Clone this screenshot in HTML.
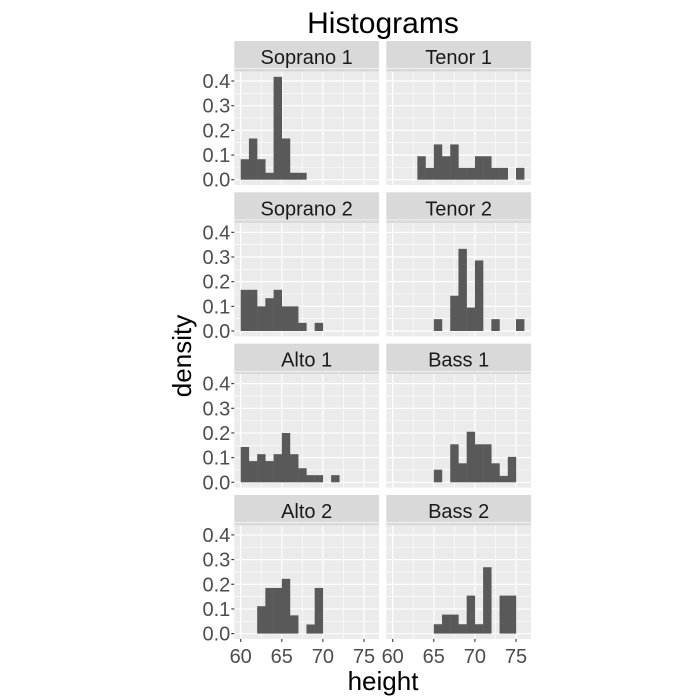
<!DOCTYPE html>
<html><head><style>body{margin:0;background:#fff}svg{display:block}</style></head>
<body>
<svg id="s" width="699" height="699" xmlns="http://www.w3.org/2000/svg" font-family="Liberation Sans, sans-serif"></svg>
<script>
const data=[
 [[60,.083],[61,.167],[62,.083],[63,.028],[64,.417],[65,.167],[66,.028],[67,.028]],
 [[63,.095],[64,.048],[65,.143],[66,.095],[67,.143],[68,.048],[69,.048],[70,.095],[71,.095],[72,.048],[73,.048],[75,.048]],
 [[60,.167],[61,.167],[62,.1],[63,.133],[64,.167],[65,.1],[66,.1],[67,.033],[69,.033]],
 [[65,.048],[67,.143],[68,.333],[69,.095],[70,.286],[72,.048],[75,.048]],
 [[60,.143],[61,.086],[62,.114],[63,.086],[64,.114],[65,.2],[66,.114],[67,.057],[68,.029],[69,.029],[71,.029]],
 [[65,.051],[67,.154],[68,.077],[69,.205],[70,.154],[71,.154],[72,.077],[73,.026],[74,.103]],
 [[62,.111],[63,.185],[64,.185],[65,.222],[66,.074],[68,.037],[69,.185]],
 [[65,.038],[66,.077],[67,.077],[68,.038],[69,.154],[70,.038],[71,.269],[73,.154],[74,.154]]
];
const names=["Soprano 1","Tenor 1","Soprano 2","Tenor 2","Alto 1","Bass 1","Alto 2","Bass 2"];
let h='<text x="383" y="33" font-size="30" text-anchor="middle" fill="#000">Histograms</text>';
const ux=8.22, uy=246.7;
for(let i=0;i<8;i++){
 const r=Math.floor(i/2),c=i%2;
 const x0=c?386.3:234.3, x1=x0+144.7, st=41+151.3*r, pt=st+30.7, pb=pt+113.3;
 const X=v=>x0+6.4+(v-60)*ux, Y=v=>pb-5.3-v*uy;
 h+=`<rect x="${x0}" y="${st}" width="${x1-x0}" height="30.7" fill="#D9D9D9"/>`;
 h+=`<text x="${(x0+x1)/2}" y="${st+23}" font-size="20" text-anchor="middle" fill="#1A1A1A">${names[i]}</text>`;
 h+=`<rect x="${x0}" y="${pt}" width="${x1-x0}" height="113.3" fill="#EBEBEB"/>`;
 for(let v=0.05;v<0.45;v+=0.1)h+=`<line x1="${x0}" x2="${x1}" y1="${Y(v)}" y2="${Y(v)}" stroke="#fff" stroke-width="0.6"/>`;
 for(let v=62.5;v<77;v+=5)h+=`<line y1="${pt}" y2="${pb}" x1="${X(v)}" x2="${X(v)}" stroke="#fff" stroke-width="0.6"/>`;
 for(let v=0;v<=0.4001;v+=0.1)h+=`<line x1="${x0}" x2="${x1}" y1="${Y(v)}" y2="${Y(v)}" stroke="#fff" stroke-width="1.2"/>`;
 for(let v=60;v<=75;v+=5)h+=`<line y1="${pt}" y2="${pb}" x1="${X(v)}" x2="${X(v)}" stroke="#fff" stroke-width="1.2"/>`;
 for(const [b,d] of data[i])h+=`<rect x="${X(b)}" y="${Y(d)}" width="${ux+0.2}" height="${d*uy}" fill="#595959"/>`;
 if(c==0){
  for(let k=0;k<5;k++){const v=k/10;h+=`<line x1="${x0-3}" x2="${x0}" y1="${Y(v)}" y2="${Y(v)}" stroke="#333" stroke-width="1.1"/><text x="${x0-4}" y="${Y(v)+7}" font-size="20" text-anchor="end" fill="#4D4D4D">${v.toFixed(1)}</text>`;}
 }
 if(r==3){
  for(let v=60;v<=75;v+=5)h+=`<line y1="${pb}" y2="${pb+3}" x1="${X(v)}" x2="${X(v)}" stroke="#333" stroke-width="1.1"/><text x="${X(v)}" y="${pb+24}" font-size="20" text-anchor="middle" fill="#4D4D4D">${v}</text>`;
 }
}
h+='<text x="383" y="690" font-size="26" text-anchor="middle" fill="#000">height</text>';
h+='<text transform="translate(191,356) rotate(-90)" font-size="26" text-anchor="middle" fill="#000">density</text>';
document.getElementById('s').innerHTML=h;
</script>
</body></html>
